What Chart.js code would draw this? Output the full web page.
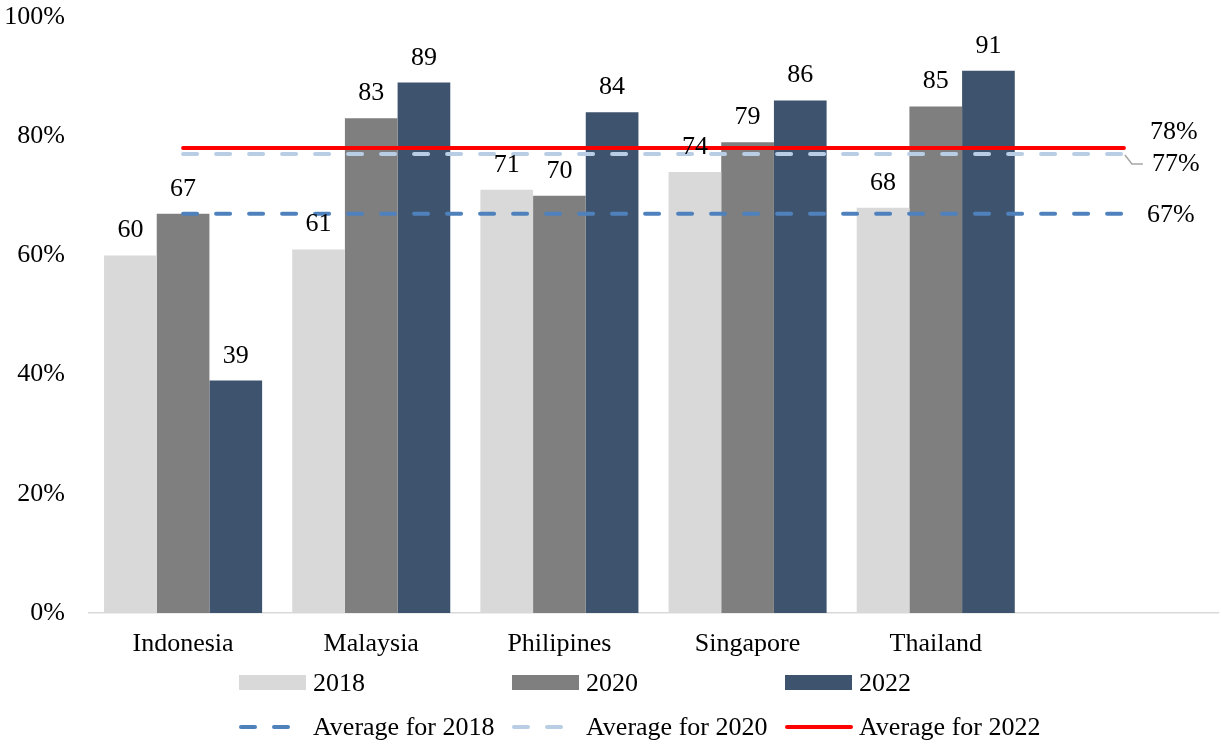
<!DOCTYPE html>
<html>
<head>
<meta charset="utf-8">
<script src="https://cdn.jsdelivr.net/npm/chart.js@4.4.1/dist/chart.umd.min.js"></script>
<style>
    html, body { margin: 0; padding: 0; background: #ffffff; }
    #wrap { width: 1221px; height: 744px; }
</style>
</head>
<body>
<div id="wrap"><canvas id="chart" width="1221" height="744"></canvas></div>
<script>
const categories = ['Indonesia', 'Malaysia', 'Philipines', 'Singapore', 'Thailand', ''];
const values2018 = [60, 61, 71, 74, 68, null];
const values2020 = [67, 83, 70, 79, 85, null];
const values2022 = [39, 89, 84, 86, 91, null];
const average2018 = [67, 67, 67, 67, 67, 67];
const average2020 = [77, 77, 77, 77, 77, 77];
const average2022 = [78, 78, 78, 78, 78, 78];
const yTicks = [0, 20, 40, 60, 80, 100];

const FONT = '"Liberation Serif", "Times New Roman", serif';
const SIZE = 26;

// value labels above the bars
const barLabels = {
    id: 'barLabels',
    afterDatasetsDraw(chart) {
        const { ctx } = chart;
        ctx.save();
        ctx.font = SIZE + 'px ' + FONT;
        ctx.fillStyle = '#000000';
        ctx.textAlign = 'center';
        ctx.textBaseline = 'alphabetic';
        chart.data.datasets.forEach((ds, i) => {
            if (ds.type !== 'bar') return;
            const meta = chart.getDatasetMeta(i);
            meta.data.forEach((bar, j) => {
                const v = ds.data[j];
                if (v === null) return;
                ctx.fillText(String(v), bar.x, bar.y - 18);
            });
        });
        ctx.restore();
    },
};

// labels at the right end of the average lines
const endLabels = {
    id: 'endLabels',
    afterDatasetsDraw(chart) {
        const { ctx } = chart;
        const shifts = { 3: { dx: 23, dy: 1, leader: false }, 4: { dx: 28, dy: 10, leader: true }, 5: { dx: 26, dy: -16, leader: false } };
        ctx.save();
        ctx.font = SIZE + 'px ' + FONT;
        ctx.fillStyle = '#000000';
        ctx.textAlign = 'left';
        ctx.textBaseline = 'middle';
        chart.data.datasets.forEach((ds, i) => {
            if (ds.type !== 'line') return;
            const meta = chart.getDatasetMeta(i);
            const last = meta.data[meta.data.length - 1];
            const s = shifts[i];
            if (s.leader) {
                ctx.strokeStyle = '#a6a6a6';
                ctx.lineWidth = 1.5;
                ctx.beginPath();
                ctx.moveTo(last.x + 1, last.y + 1);
                ctx.lineTo(last.x + 8, last.y + s.dy);
                ctx.lineTo(last.x + 19, last.y + s.dy);
                ctx.stroke();
            }
            ctx.fillText(ds.data[ds.data.length - 1] + '%', last.x + s.dx, last.y + s.dy);
        });
        ctx.restore();
    },
};

// legend in two rows, three columns
const customLegend = {
    id: 'customLegend',
    afterDraw(chart) {
        const { ctx } = chart;
        const cols = [239, 512, 785];
        const rows = [683, 727];
        ctx.save();
        ctx.font = SIZE + 'px ' + FONT;
        ctx.fillStyle = '#000000';
        ctx.textBaseline = 'middle';
        chart.data.datasets.forEach((ds, i) => {
            const x = cols[i % 3];
            const y = rows[Math.floor(i / 3)];
            if (ds.type === 'bar') {
                ctx.fillStyle = ds.backgroundColor;
                ctx.fillRect(x, y - 8, 67, 15);
            } else {
                ctx.strokeStyle = ds.borderColor;
                ctx.lineWidth = ds.borderWidth;
                ctx.lineCap = 'round';
                ctx.setLineDash(ds.borderDash || []);
                ctx.beginPath();
                ctx.moveTo(x + 2, y);
                ctx.lineTo(x + 66, y);
                ctx.stroke();
                ctx.setLineDash([]);
            }
            ctx.fillStyle = '#000000';
            ctx.fillText(ds.label, x + 74, y + 1);
        });
        ctx.restore();
    },
};

const lineStyle = (label, data, color, dash) => ({
    type: 'line',
    label: label,
    data: data,
    borderColor: color,
    backgroundColor: color,
    borderWidth: 4,
    borderDash: dash,
    borderCapStyle: 'round',
    pointRadius: 0,
    pointHoverRadius: 0,
    fill: false,
    order: 0,
});

const ctx = document.getElementById('chart').getContext('2d');
new Chart(ctx, {
    data: {
        labels: categories,
        datasets: [
            { type: 'bar', label: '2018', data: values2018, backgroundColor: '#d9d9d9', order: 1 },
            { type: 'bar', label: '2020', data: values2020, backgroundColor: '#7f7f7f', order: 1 },
            { type: 'bar', label: '2022', data: values2022, backgroundColor: '#3e546e', order: 1 },
            lineStyle('Average for 2018', average2018, '#4f81bd', [14, 19]),
            lineStyle('Average for 2020', average2020, '#b9cde5', [14, 19]),
            lineStyle('Average for 2022', average2022, '#ff0000', []),
        ],
    },
    options: {
        responsive: false,
        animation: false,
        datasets: {
            bar: { barPercentage: 1, categoryPercentage: 0.84, borderWidth: 0 },
        },
        layout: {
            padding: { top: 17, right: 3, bottom: 81, left: 0 },
        },
        plugins: {
            legend: { display: false },
            tooltip: { enabled: false },
        },
        scales: {
            x: {
                offset: true,
                grid: { display: false, drawTicks: false },
                border: { display: true, color: '#d9d9d9', width: 1.5 },
                ticks: {
                    color: '#000000',
                    font: { family: FONT, size: SIZE },
                    padding: 16,
                    maxRotation: 0,
                },
                afterFit(scale) {
                    scale.height = 50;
                    scale.paddingLeft = 0;
                    scale.paddingRight = 0;
                },
            },
            y: {
                min: 0,
                max: 100,
                grid: { display: false, drawTicks: false },
                border: { display: false },
                afterBuildTicks(scale) { scale.ticks = yTicks.map((v) => ({ value: v })); },
                ticks: {
                    color: '#000000',
                    font: { family: FONT, size: SIZE },
                    padding: 24,
                    callback: (v) => v + '%',
                },
                afterFit(scale) {
                    scale.width = 89;
                    scale.paddingTop = 0;
                    scale.paddingBottom = 0;
                },
            },
        },
    },
    plugins: [barLabels, endLabels, customLegend],
});
</script>
</body>
</html>
